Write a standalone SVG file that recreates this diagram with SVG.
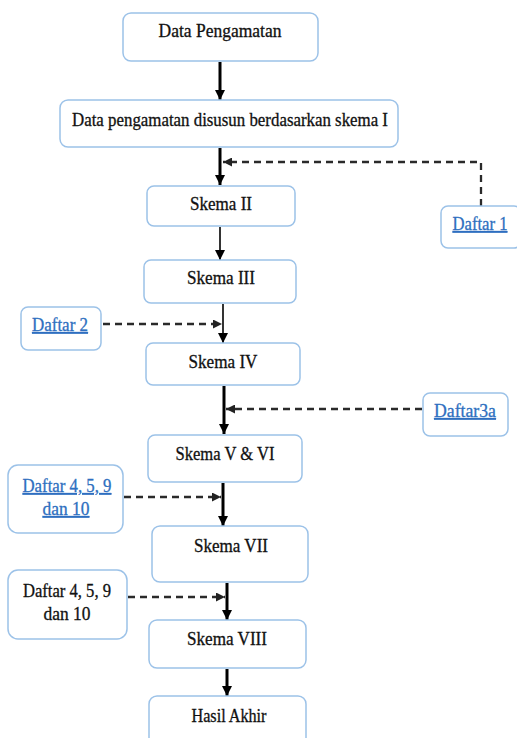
<svg xmlns="http://www.w3.org/2000/svg" width="517" height="738" viewBox="0 0 517 738">
<style>
.box{fill:#fff;stroke:#9cc2e8;stroke-width:1.5}
.t{font-family:'Liberation Serif','Times New Roman',serif;font-size:18px;fill:#111;stroke:#111;stroke-width:0.3;text-anchor:middle}
.l{fill:#2e6fc0;stroke:#2e6fc0;text-decoration:underline}
.solid{stroke:#000;fill:none}
.dash{stroke:#2a2a2a;stroke-width:2.3;stroke-dasharray:7 5;fill:none}
</style>
<defs>
<marker id="ah" viewBox="0 0 10 10" refX="10" refY="5" markerWidth="10" markerHeight="10" markerUnits="userSpaceOnUse" orient="auto">
<path d="M0,0 L10,5 L0,10 z" fill="#000"/>
</marker>
<marker id="dh" viewBox="0 0 10 10" refX="10" refY="5" markerWidth="9" markerHeight="9" markerUnits="userSpaceOnUse" orient="auto">
<path d="M0,0 L10,5 L0,10 z" fill="#222"/>
</marker>
</defs>
<rect width="517" height="738" fill="#fff"/>
<g id="connectors">
<line class="solid" x1="220" y1="62" x2="220" y2="100" stroke-width="3" marker-end="url(#ah)"/>
<line class="solid" x1="220" y1="148" x2="220" y2="185" stroke-width="3" marker-end="url(#ah)"/>
<line class="solid" x1="220" y1="227" x2="220" y2="260" stroke-width="1.6" marker-end="url(#ah)"/>
<line class="solid" x1="223" y1="304" x2="223" y2="343" stroke-width="1.6" marker-end="url(#ah)"/>
<line class="solid" x1="224" y1="386" x2="224" y2="434" stroke-width="3" marker-end="url(#ah)"/>
<line class="solid" x1="223" y1="483" x2="223" y2="526" stroke-width="3" marker-end="url(#ah)"/>
<line class="solid" x1="227" y1="583" x2="227" y2="620" stroke-width="3" marker-end="url(#ah)"/>
<line class="solid" x1="227" y1="669" x2="227" y2="696" stroke-width="3" marker-end="url(#ah)"/>
<polyline class="dash" points="481,206 481,162 223,162" marker-end="url(#dh)"/>
<line class="dash" x1="103" y1="324" x2="222" y2="324" marker-end="url(#dh)"/>
<line class="dash" x1="422" y1="409" x2="226" y2="409" marker-end="url(#dh)"/>
<line class="dash" x1="124" y1="497" x2="221" y2="497" marker-end="url(#dh)"/>
<line class="dash" x1="128" y1="597" x2="225" y2="597" marker-end="url(#dh)"/>
</g>
<g id="n1"><rect class="box" x="123" y="13" width="195" height="48" rx="8"/><text class="t" x="220" y="37" textLength="123" lengthAdjust="spacingAndGlyphs">Data Pengamatan</text></g>
<g id="n2"><rect class="box" x="60" y="100" width="338" height="47" rx="8"/><text class="t" x="230" y="126" textLength="316" lengthAdjust="spacingAndGlyphs">Data pengamatan disusun berdasarkan skema I</text></g>
<g id="n3"><rect class="box" x="147" y="186" width="148" height="40" rx="7"/><text class="t" x="221" y="210" textLength="62" lengthAdjust="spacingAndGlyphs">Skema II</text></g>
<g id="d1"><rect class="box" x="441" y="206" width="80" height="42" rx="7"/><text class="t l" x="480" y="230" textLength="55" lengthAdjust="spacingAndGlyphs">Daftar 1</text></g>
<g id="n4"><rect class="box" x="144" y="260" width="152" height="43" rx="7"/><text class="t" x="221" y="284" textLength="68" lengthAdjust="spacingAndGlyphs">Skema III</text></g>
<g id="d2"><rect class="box" x="21" y="307" width="80" height="43" rx="7"/><text class="t l" x="60" y="331" textLength="56" lengthAdjust="spacingAndGlyphs">Daftar 2</text></g>
<g id="n5"><rect class="box" x="146" y="343" width="154" height="42" rx="7"/><text class="t" x="223" y="368" textLength="69" lengthAdjust="spacingAndGlyphs">Skema IV</text></g>
<g id="d3"><rect class="box" x="423" y="393" width="85" height="43" rx="7"/><text class="t l" x="465" y="417" textLength="62" lengthAdjust="spacingAndGlyphs">Daftar3a</text></g>
<g id="n6"><rect class="box" x="148" y="435" width="154" height="47" rx="7"/><text class="t" x="225" y="460" textLength="99" lengthAdjust="spacingAndGlyphs">Skema V &amp; VI</text></g>
<g id="d4"><rect class="box" x="8" y="465" width="115" height="68" rx="10"/><text class="t l" x="67" y="492" textLength="89" lengthAdjust="spacingAndGlyphs">Daftar 4, 5, 9</text><text class="t l" x="66" y="515" textLength="47" lengthAdjust="spacingAndGlyphs">dan 10</text></g>
<g id="n7"><rect class="box" x="152" y="526" width="156" height="56" rx="8"/><text class="t" x="231" y="552" textLength="74" lengthAdjust="spacingAndGlyphs">Skema VII</text></g>
<g id="d5"><rect class="box" x="8" y="570" width="119" height="69" rx="10"/><text class="t" x="67" y="597" textLength="88" lengthAdjust="spacingAndGlyphs">Daftar 4, 5, 9</text><text class="t" x="67" y="620" textLength="47" lengthAdjust="spacingAndGlyphs">dan 10</text></g>
<g id="n8"><rect class="box" x="149" y="620" width="157" height="48" rx="8"/><text class="t" x="227" y="645" textLength="80" lengthAdjust="spacingAndGlyphs">Skema VIII</text></g>
<g id="n9"><rect class="box" x="149" y="696" width="157" height="50" rx="8"/><text class="t" x="229" y="722" textLength="75" lengthAdjust="spacingAndGlyphs">Hasil Akhir</text></g>
</svg>
